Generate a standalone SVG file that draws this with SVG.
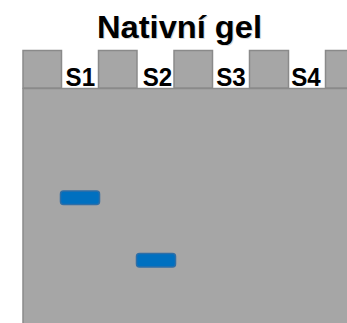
<svg xmlns="http://www.w3.org/2000/svg" width="347" height="323" viewBox="0 0 347 323">
<style>
.gel{fill:#a6a6a6;stroke:#8a8a8a;stroke-width:1.5}
.band{fill:#0070c0;stroke:#2f6ea6;stroke-width:1.5}
.lbl{font-family:"Liberation Sans",Arial,sans-serif;font-weight:bold;font-size:26.5px;fill:#000;text-anchor:middle}
.title{font-family:"Liberation Sans",Arial,sans-serif;font-weight:bold;font-size:32px;text-anchor:middle}
</style>
<rect width="347" height="323" fill="#ffffff"/>
<g id="title">
<text class="title" x="180.5" y="38.5" fill="#d9d9d9" textLength="165" lengthAdjust="spacingAndGlyphs">Nativní gel</text>
<text class="title" x="179.5" y="37.5" fill="#000" textLength="165" lengthAdjust="spacingAndGlyphs">Nativní gel</text>
</g>
<g id="gel">
<rect class="gel" x="23" y="88.5" width="326" height="238"/>
<rect class="gel" x="23" y="50.5" width="38.5" height="37.5"/>
<rect class="gel" x="98.5" y="50.5" width="38.5" height="37.5"/>
<rect class="gel" x="174" y="50.5" width="38.5" height="37.5"/>
<rect class="gel" x="249.5" y="50.5" width="39" height="37.5"/>
<rect class="gel" x="325.5" y="50.5" width="25" height="37.5"/>
</g>
<g id="labels">
<text class="lbl" x="80.3" y="85.5" textLength="29.5" lengthAdjust="spacingAndGlyphs">S1</text>
<text class="lbl" x="157.5" y="85.5" textLength="29.5" lengthAdjust="spacingAndGlyphs">S2</text>
<text class="lbl" x="231" y="85.5" textLength="29.5" lengthAdjust="spacingAndGlyphs">S3</text>
<text class="lbl" x="306" y="85.5" textLength="29.5" lengthAdjust="spacingAndGlyphs">S4</text>
</g>
<g id="band1"><rect class="band" x="60.5" y="191" width="39" height="13.5" rx="3"/></g>
<g id="band2"><rect class="band" x="136.5" y="253.5" width="39" height="13.5" rx="3"/></g>
</svg>
